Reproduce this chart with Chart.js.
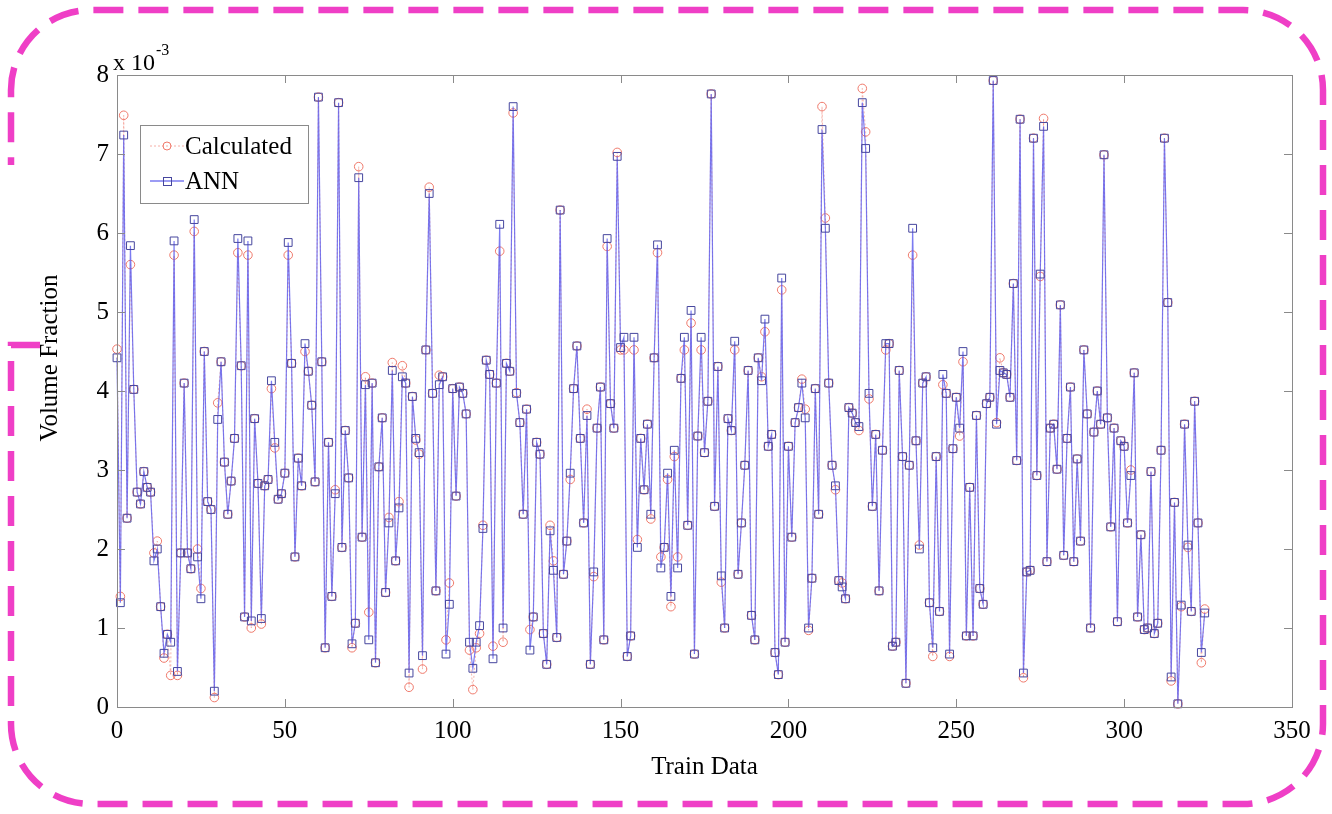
<!DOCTYPE html>
<html>
<head>
<meta charset="utf-8">
<script src="https://cdn.jsdelivr.net/npm/chart.js@4/dist/chart.umd.min.js"></script>
<style>
html,body{margin:0;padding:0;background:#fff;}
#wrap{width:1332px;height:814px;position:relative;}
canvas{display:block;}
</style>
</head>
<body>
<div id="wrap"><canvas id="c" width="1332" height="814"></canvas></div>
<script>
// ANN predicted volume fraction (x 10^-3), one value per training sample
const annValues = [
4.42,1.32,7.24,2.39,5.84,4.02,2.72,2.57,2.98,2.78,
2.72,1.85,2.0,1.27,0.68,0.92,0.82,5.9,0.45,1.95,
4.1,1.95,1.75,6.17,1.9,1.37,4.5,2.6,2.5,0.2,
3.64,4.37,3.1,2.44,2.86,3.4,5.93,4.32,1.14,5.9,
1.09,3.65,2.83,1.12,2.8,2.88,4.13,3.35,2.63,2.7,
2.96,5.88,4.35,1.9,3.15,2.8,4.6,4.25,3.82,2.85,
7.72,4.37,0.75,3.35,1.4,2.7,7.65,2.02,3.5,2.9,
0.8,1.06,6.7,2.15,4.08,0.85,4.1,0.56,3.04,3.66,
1.45,2.33,4.26,1.85,2.52,4.18,4.1,0.43,3.93,3.4,
3.22,0.65,4.52,6.5,3.97,1.47,4.08,4.18,0.67,1.3,
4.03,2.67,4.05,3.97,3.71,0.82,0.49,0.82,1.03,2.26,
4.39,4.21,0.61,4.1,6.11,1.0,4.35,4.25,7.6,3.97,
3.6,2.44,3.77,0.72,1.14,3.35,3.2,0.93,0.54,2.23,
1.73,0.88,6.29,1.68,2.1,2.96,4.03,4.57,3.4,2.33,
3.69,0.54,1.71,3.53,4.05,0.85,5.93,3.84,3.53,6.97,
4.55,4.68,0.64,0.9,4.68,2.02,3.4,2.75,3.58,2.44,
4.42,5.85,1.76,2.02,2.96,1.4,3.25,1.76,4.16,4.68,
2.3,5.02,0.67,3.43,4.68,3.22,3.87,7.76,2.54,4.31,
1.66,1.0,3.65,3.5,4.63,1.68,2.33,3.06,4.26,1.16,
0.85,4.42,4.13,4.91,3.3,3.45,0.69,0.41,5.43,0.82,
3.3,2.15,3.6,3.79,4.1,3.66,1.0,1.63,4.03,2.44,
7.31,6.06,4.1,3.06,2.8,1.6,1.52,1.37,3.79,3.72,
3.6,3.55,7.65,7.07,3.97,2.54,3.45,1.47,3.25,4.6,
4.6,0.77,0.82,4.26,3.17,0.3,3.06,6.06,3.37,2.0,
4.1,4.18,1.32,0.75,3.17,1.21,4.21,3.97,0.67,3.27,
3.92,3.53,4.5,0.9,2.78,0.9,3.69,1.5,1.3,3.84,
3.92,7.93,3.58,4.26,4.23,4.21,3.92,5.36,3.12,7.44,
0.43,1.71,1.73,7.2,2.93,5.48,7.35,1.84,3.53,3.58,
3.01,5.09,1.92,3.4,4.05,1.84,3.14,2.1,4.52,3.71,
1.0,3.48,4.0,3.58,6.99,3.66,2.28,3.53,1.08,3.37,
3.3,2.33,2.93,4.23,1.14,2.18,0.98,1.0,2.98,0.93,
1.06,3.25,7.2,5.12,0.38,2.59,0.04,1.29,3.58,2.05,
1.21,3.87,2.33,0.69,1.19
];
// Calculated volume fraction (x 10^-3)
const calcValues = [
4.53,1.4,7.49,2.39,5.6,4.02,2.72,2.57,2.98,2.78,
2.72,1.95,2.1,1.27,0.62,0.92,0.4,5.72,0.4,1.95,
4.1,1.95,1.75,6.02,2.0,1.5,4.5,2.6,2.5,0.12,
3.85,4.37,3.1,2.44,2.86,3.4,5.75,4.32,1.14,5.72,
1.0,3.65,2.83,1.05,2.8,2.88,4.03,3.28,2.63,2.7,
2.96,5.72,4.35,1.9,3.15,2.8,4.5,4.25,3.82,2.85,
7.72,4.37,0.75,3.35,1.4,2.75,7.65,2.02,3.5,2.9,
0.75,1.06,6.84,2.15,4.18,1.2,4.1,0.56,3.04,3.66,
1.45,2.4,4.36,1.85,2.6,4.32,4.1,0.25,3.93,3.38,
3.2,0.48,4.52,6.58,3.97,1.47,4.2,4.18,0.85,1.57,
4.03,2.67,4.05,3.97,3.71,0.72,0.22,0.75,0.93,2.3,
4.39,4.21,0.77,4.1,5.77,0.82,4.35,4.25,7.52,3.98,
3.6,2.44,3.77,0.98,1.14,3.35,3.2,0.93,0.54,2.3,
1.85,0.88,6.29,1.68,2.1,2.88,4.03,4.57,3.4,2.33,
3.77,0.54,1.65,3.53,4.05,0.85,5.83,3.84,3.53,7.02,
4.52,4.52,0.64,0.9,4.52,2.12,3.4,2.75,3.58,2.38,
4.42,5.75,1.9,2.02,2.88,1.27,3.17,1.9,4.16,4.52,
2.3,4.86,0.67,3.43,4.52,3.22,3.87,7.76,2.54,4.31,
1.58,1.0,3.65,3.5,4.52,1.68,2.33,3.06,4.26,1.16,
0.85,4.42,4.18,4.75,3.3,3.45,0.69,0.41,5.28,0.82,
3.3,2.15,3.6,3.79,4.15,3.77,0.97,1.63,4.03,2.44,
7.6,6.19,4.1,3.06,2.75,1.6,1.57,1.37,3.79,3.72,
3.6,3.5,7.83,7.28,3.9,2.54,3.45,1.47,3.25,4.52,
4.6,0.77,0.82,4.26,3.17,0.3,3.06,5.72,3.37,2.05,
4.1,4.18,1.32,0.64,3.17,1.21,4.08,3.97,0.64,3.27,
3.92,3.43,4.37,0.9,2.78,0.9,3.69,1.5,1.3,3.84,
3.92,7.93,3.6,4.42,4.23,4.21,3.92,5.36,3.12,7.44,
0.37,1.71,1.73,7.2,2.93,5.45,7.45,1.84,3.53,3.58,
3.01,5.09,1.92,3.4,4.05,1.84,3.14,2.1,4.52,3.71,
1.0,3.48,4.0,3.58,6.99,3.66,2.28,3.53,1.08,3.37,
3.3,2.33,3.0,4.23,1.14,2.18,0.98,1.0,2.98,0.93,
1.06,3.25,7.2,5.12,0.33,2.59,0.04,1.27,3.58,2.02,
1.21,3.87,2.33,0.56,1.24
];
// position of each training sample on the x axis
const trainIndex = annValues.map((_, i) => i);
const xTickValues = [0, 50, 100, 150, 200, 250, 300, 350];
const yTickValues = [0, 1, 2, 3, 4, 5, 6, 7, 8];
const seriesNames = ['Calculated', 'ANN'];
const xTitle = 'Train Data';
const yTitle = 'Volume Fraction';
const yExponent = ['x 10', '-3'];

const SERIF = '"Liberation Serif", "Times New Roman", serif';
const calcColor = '#f07a6c';
const annLine = 'rgba(90,90,238,0.8)';
const annMarker = '#46469e';

const calcPoints = trainIndex.map((x, i) => ({x: x, y: calcValues[i]}));
const annPoints = trainIndex.map((x, i) => ({x: x, y: annValues[i]}));

const decor = {
  id: 'decor',
  beforeDraw(chart) {
    const ctx = chart.ctx;
    ctx.save();
    ctx.fillStyle = '#ffffff';
    ctx.fillRect(0, 0, chart.width, chart.height);
    // magenta dashed rounded frame
    const L = 11, T = 10, R = 1323, B = 804, r = 80;
    ctx.strokeStyle = '#ef3fc6';
    ctx.lineWidth = 6.5;
    ctx.setLineDash([30, 15]);
    ctx.lineCap = 'butt';
    ctx.beginPath();
    ctx.moveTo(40, 345);
    ctx.lineTo(L, 345);
    ctx.lineTo(L, B - r);
    ctx.arcTo(L, B, L + r, B, r);
    ctx.lineTo(R - r, B);
    ctx.arcTo(R, B, R, B - r, r);
    ctx.lineTo(R, T + r);
    ctx.arcTo(R, T, R - r, T, r);
    ctx.lineTo(L + r, T);
    ctx.arcTo(L, T, L, T + r, r);
    ctx.lineTo(L, 165);
    ctx.stroke();
    ctx.restore();
  },
  afterDatasetsDraw(chart) {
    const {ctx, chartArea: a, scales} = chart;
    const xs = scales.x, ys = scales.y;
    ctx.save();
    ctx.setLineDash([]);
    ctx.strokeStyle = '#8a8a8a';
    ctx.lineWidth = 1;
    ctx.strokeRect(Math.round(a.left) + 0.5, Math.round(a.top) + 0.5,
                   Math.round(a.right - a.left), Math.round(a.bottom - a.top));
    const tl = 8;
    ctx.beginPath();
    xs.ticks.forEach(t => {
      const px = Math.round(xs.getPixelForValue(t.value)) + 0.5;
      ctx.moveTo(px, a.bottom); ctx.lineTo(px, a.bottom - tl);
      ctx.moveTo(px, a.top); ctx.lineTo(px, a.top + tl);
    });
    ys.ticks.forEach(t => {
      const py = Math.round(ys.getPixelForValue(t.value)) + 0.5;
      ctx.moveTo(a.left, py); ctx.lineTo(a.left + tl, py);
      ctx.moveTo(a.right, py); ctx.lineTo(a.right - tl, py);
    });
    ctx.stroke();

    // exponent label above the y axis
    ctx.fillStyle = '#000';
    ctx.textBaseline = 'alphabetic';
    ctx.textAlign = 'left';
    ctx.font = '24px ' + SERIF;
    ctx.fillText(yExponent[0], a.left - 4, 70);
    const w = ctx.measureText(yExponent[0]).width;
    ctx.font = '16px ' + SERIF;
    ctx.fillText(yExponent[1], a.left - 4 + w + 1, 55);

    // y axis title
    ctx.save();
    ctx.translate(50, 358);
    ctx.rotate(-Math.PI / 2);
    ctx.font = '25px ' + SERIF;
    ctx.textAlign = 'center';
    ctx.textBaseline = 'middle';
    ctx.fillText(yTitle, 0, 0);
    ctx.restore();

    // legend box
    const bx = 140.5, by = 125.5, bw = 168, bh = 78;
    ctx.fillStyle = '#fff';
    ctx.fillRect(bx, by, bw, bh);
    ctx.strokeStyle = '#8a8a8a';
    ctx.strokeRect(bx, by, bw, bh);
    const rows = [146, 181];
    // Calculated entry
    ctx.strokeStyle = 'rgba(240,122,108,0.6)';
    ctx.setLineDash([2, 2]);
    ctx.beginPath(); ctx.moveTo(150, rows[0]); ctx.lineTo(184, rows[0]); ctx.stroke();
    ctx.setLineDash([]);
    ctx.strokeStyle = calcColor;
    ctx.beginPath(); ctx.arc(167, rows[0], 4, 0, Math.PI * 2); ctx.stroke();
    // ANN entry
    ctx.strokeStyle = annLine;
    ctx.lineWidth = 1.3;
    ctx.beginPath(); ctx.moveTo(150, rows[1]); ctx.lineTo(184, rows[1]); ctx.stroke();
    ctx.lineWidth = 1;
    ctx.strokeStyle = annMarker;
    ctx.strokeRect(163.5, rows[1] - 3.5, 8, 8);
    ctx.fillStyle = '#000';
    ctx.font = '25px ' + SERIF;
    ctx.textAlign = 'left';
    ctx.textBaseline = 'middle';
    ctx.fillText(seriesNames[0], 185, rows[0] + 1);
    ctx.fillText(seriesNames[1], 185, rows[1] + 1);
    ctx.restore();
  }
};

new Chart(document.getElementById('c'), {
  type: 'line',
  data: {
    datasets: [
      {
        label: seriesNames[0],
        data: calcPoints,
        borderColor: 'rgba(240,122,108,0.55)',
        borderWidth: 1,
        borderDash: [2, 2],
        pointStyle: 'circle',
        pointRadius: 4.3,
        pointBorderWidth: 1,
        pointBorderColor: calcColor,
        pointBackgroundColor: 'rgba(0,0,0,0)',
        tension: 0,
        clip: false,
        order: 1
      },
      {
        label: seriesNames[1],
        data: annPoints,
        borderColor: annLine,
        borderWidth: 1.2,
        pointStyle: 'rect',
        pointRadius: 5.5,
        pointBorderWidth: 1,
        pointBorderColor: annMarker,
        pointBackgroundColor: 'rgba(0,0,0,0)',
        tension: 0,
        clip: false,
        order: 0
      }
    ]
  },
  options: {
    responsive: false,
    animation: false,
    devicePixelRatio: 1,
    layout: {padding: {left: 0, right: 40, top: 75, bottom: 32}},
    plugins: {legend: {display: false}, tooltip: {enabled: false}},
    scales: {
      x: {
        type: 'linear',
        min: xTickValues[0],
        max: xTickValues[xTickValues.length - 1],
        afterBuildTicks: s => { s.ticks = xTickValues.map(v => ({value: v})); },
        afterFit: s => { s.height = 75; },
        grid: {display: false, drawTicks: false},
        border: {display: false},
        ticks: {color: '#000', font: {family: SERIF, size: 25}, padding: 9, maxRotation: 0},
        title: {display: true, text: xTitle, color: '#000', font: {family: SERIF, size: 25}, padding: {top: 0, bottom: 0}}
      },
      y: {
        type: 'linear',
        min: yTickValues[0],
        max: yTickValues[yTickValues.length - 1],
        afterBuildTicks: s => { s.ticks = yTickValues.map(v => ({value: v})); },
        afterFit: s => { s.width = 117; },
        grid: {display: false, drawTicks: false},
        border: {display: false},
        ticks: {color: '#000', font: {family: SERIF, size: 25}, padding: 8}
      }
    }
  },
  plugins: [decor]
});
</script>
</body>
</html>
